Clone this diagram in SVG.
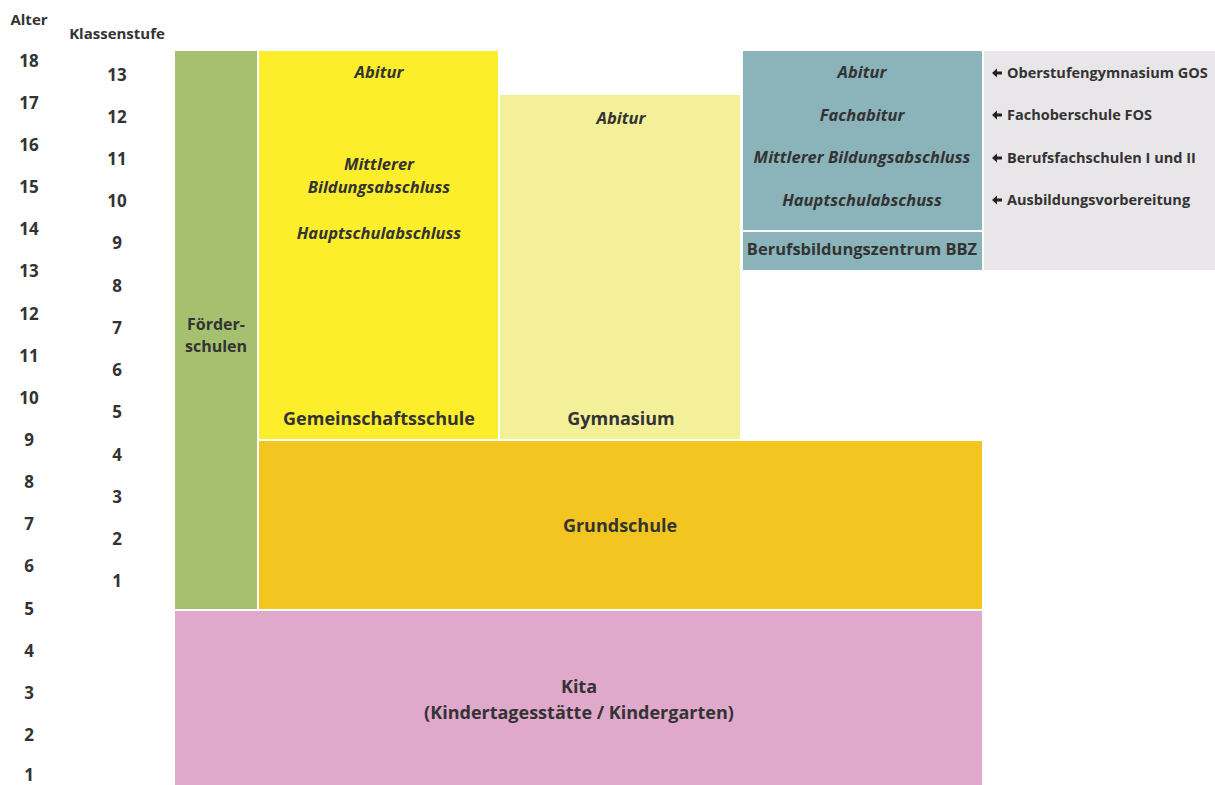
<svg xmlns="http://www.w3.org/2000/svg" width="1215" height="785" viewBox="0 0 1215 785">
<style>
text{font-family:"Open Sans","Liberation Sans",sans-serif;font-weight:bold;fill:#333;text-anchor:middle}
.n{font-size:17px}
.i{font-style:italic;font-size:16.5px}
.u{font-size:16px}
.w{font-size:16.5px}
.b{font-size:18px}
.r{font-size:14.5px;text-anchor:start}
.h{font-size:15px}
</style>
<rect width="1215" height="785" fill="#fff"/>
<g id="axis-alter">
<text class="h" x="29" y="25">Alter</text>
<text class="n" x="29" y="67">18</text>
<text class="n" x="29" y="109">17</text>
<text class="n" x="29" y="151">16</text>
<text class="n" x="29" y="193">15</text>
<text class="n" x="29" y="235">14</text>
<text class="n" x="29" y="277">13</text>
<text class="n" x="29" y="320">12</text>
<text class="n" x="29" y="362">11</text>
<text class="n" x="29" y="404">10</text>
<text class="n" x="29" y="446">9</text>
<text class="n" x="29" y="488">8</text>
<text class="n" x="29" y="530">7</text>
<text class="n" x="29" y="572">6</text>
<text class="n" x="29" y="615">5</text>
<text class="n" x="29" y="657">4</text>
<text class="n" x="29" y="699">3</text>
<text class="n" x="29" y="741">2</text>
<text class="n" x="29" y="781">1</text>
</g>
<g id="axis-klassenstufe">
<text class="h" x="117" y="39">Klassenstufe</text>
<text class="n" x="117" y="81">13</text>
<text class="n" x="117" y="123">12</text>
<text class="n" x="117" y="165">11</text>
<text class="n" x="117" y="207">10</text>
<text class="n" x="117" y="249">9</text>
<text class="n" x="117" y="292">8</text>
<text class="n" x="117" y="334">7</text>
<text class="n" x="117" y="376">6</text>
<text class="n" x="117" y="418">5</text>
<text class="n" x="117" y="461">4</text>
<text class="n" x="117" y="503">3</text>
<text class="n" x="117" y="545">2</text>
<text class="n" x="117" y="587">1</text>
</g>
<g id="foerderschulen">
<rect x="175" y="51" width="82" height="558" fill="#a5c170"/>
<text class="u" x="216" y="330">Förder-</text>
<text class="u" x="216" y="352">schulen</text>
</g>
<g id="gemeinschaftsschule">
<rect x="259" y="51" width="239" height="388" fill="#fcee2b"/>
<text class="i" x="379" y="78">Abitur</text>
<text class="i" x="379" y="170">Mittlerer</text>
<text class="i" x="379" y="193">Bildungsabschluss</text>
<text class="i" x="379" y="239">Hauptschulabschluss</text>
<text class="b" x="379" y="425">Gemeinschaftsschule</text>
</g>
<g id="gymnasium">
<rect x="500" y="95" width="240" height="344" fill="#f4f09a"/>
<text class="i" x="621" y="124">Abitur</text>
<text class="b" x="621" y="425">Gymnasium</text>
</g>
<g id="bbz">
<rect x="743" y="51" width="239" height="179" fill="#8ab4ba"/>
<rect x="743" y="232" width="239" height="38" fill="#8ab4ba"/>
<text class="i" x="862" y="78">Abitur</text>
<text class="i" x="862" y="121">Fachabitur</text>
<text class="i" x="862" y="163">Mittlerer Bildungsabschluss</text>
<text class="i" x="862" y="206">Hauptschulabschuss</text>
<text class="w" x="862" y="255">Berufsbildungszentrum BBZ</text>
</g>
<g id="bbz-schulformen">
<rect x="984" y="51" width="231" height="219" fill="#e8e6e8"/>
<polygon points="992,73 997,68.5 997,71.5 1002,71.5 1002,74.5 997,74.5 997,77.5" fill="#222"/>
<polygon points="992,115 997,110.5 997,113.5 1002,113.5 1002,116.5 997,116.5 997,119.5" fill="#222"/>
<polygon points="992,158 997,153.5 997,156.5 1002,156.5 1002,159.5 997,159.5 997,162.5" fill="#222"/>
<polygon points="992,200 997,195.5 997,198.5 1002,198.5 1002,201.5 997,201.5 997,204.5" fill="#222"/>
<text class="r" x="1007" y="78">Oberstufengymnasium GOS</text>
<text class="r" x="1007" y="120">Fachoberschule FOS</text>
<text class="r" x="1007" y="163">Berufsfachschulen I und II</text>
<text class="r" x="1007" y="205">Ausbildungsvorbereitung</text>
</g>
<g id="grundschule">
<rect x="259" y="441" width="723" height="168" fill="#f3c520"/>
<text class="b" x="620" y="532">Grundschule</text>
</g>
<g id="kita">
<rect x="175" y="611" width="807" height="174" fill="#e0a8cb"/>
<text class="b" x="579" y="693">Kita</text>
<text class="b" x="579" y="719">(Kindertagesstätte / Kindergarten)</text>
</g>
<g id="connectors"></g>
</svg>
